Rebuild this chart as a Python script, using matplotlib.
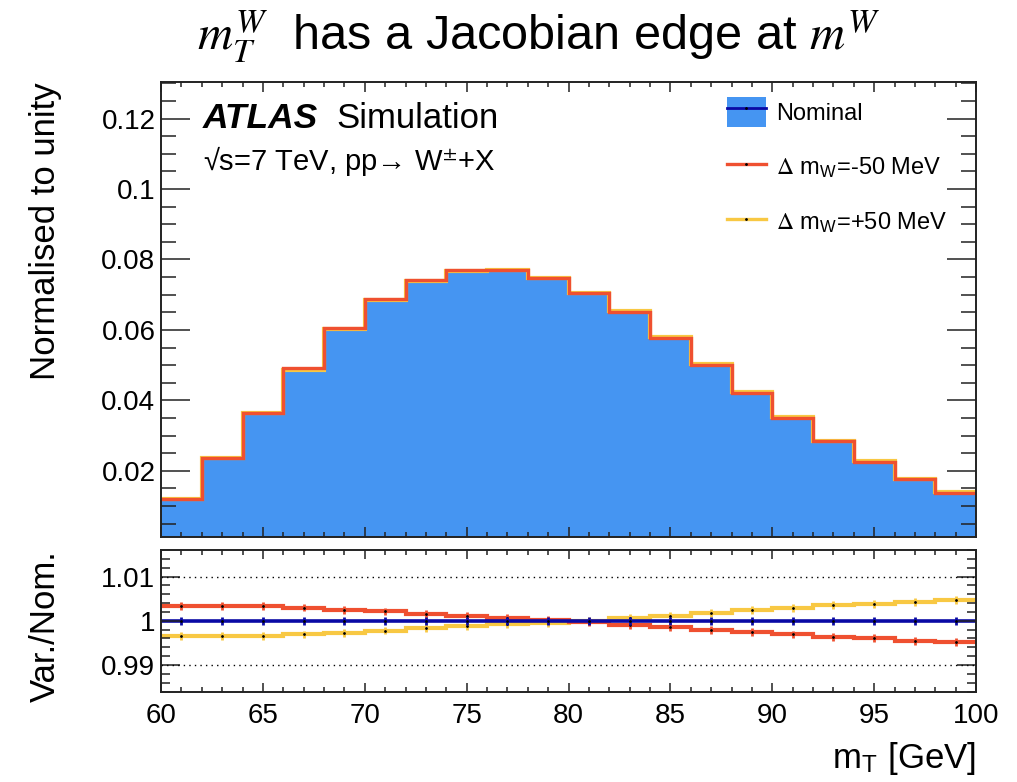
import numpy as np
import matplotlib
matplotlib.use("Agg")
import matplotlib.pyplot as plt
from matplotlib.patches import Patch
from matplotlib.lines import Line2D
from matplotlib.ticker import MultipleLocator, FuncFormatter

plt.rcParams['font.family'] = ['Liberation Sans', 'DejaVu Sans']
plt.rcParams['mathtext.fontset'] = 'stix'

# m_T binning, 2 GeV bins
edges = np.arange(60, 101, 2)
centers = 0.5 * (edges[1:] + edges[:-1])

# nominal m_T shape (normalised to unity)
nominal = [0.0119, 0.0236, 0.0364, 0.0489, 0.0604, 0.0687, 0.0741, 0.0768, 0.0771, 0.0747,
           0.0706, 0.0652, 0.0578, 0.0502, 0.0422, 0.0351, 0.0285, 0.0226, 0.0177, 0.0138]

# variation / nominal
ratio_nom = [1.0] * 20
ratio_minus = [1.0033, 1.0033, 1.0033, 1.0030, 1.0025, 1.0021, 1.0016, 1.0011, 1.0007, 1.0002,
               0.9998, 0.9991, 0.9986, 0.9980, 0.9974, 0.9969, 0.9963, 0.9960, 0.9955, 0.9951]
ratio_plus = [0.9965, 0.9965, 0.9966, 0.9969, 0.9973, 0.9978, 0.9983, 0.9988, 0.9992, 0.9996,
              1.0000, 1.0007, 1.0011, 1.0018, 1.0024, 1.0029, 1.0035, 1.0039, 1.0043, 1.0047]
ratio_err = 0.0009

hist_minus = np.array(nominal) * np.array(ratio_minus)
hist_plus = np.array(nominal) * np.array(ratio_plus)

c_fill = '#4595F2'
c_nom = '#0A0AA5'
c_minus = '#EF5030'
c_plus = '#F8C843'

W, H = 1017, 782
fig = plt.figure(figsize=(W / 100, H / 100), dpi=100)
L, R = 161, 976
ax = fig.add_axes([L / W, 1 - 537 / H, (R - L) / W, (537 - 82) / H])
rax = fig.add_axes([L / W, 1 - 692 / H, (R - L) / W, (692 - 550) / H], sharex=ax)

# upper panel
ax.stairs(nominal, edges, fill=True, color=c_fill, baseline=0)
ax.stairs(nominal, edges, color=c_nom, lw=2, baseline=None)
ax.stairs(hist_plus, edges, color=c_plus, lw=3, baseline=None)
ax.stairs(hist_minus, edges, color=c_minus, lw=2.4, baseline=None)
ax.set_xlim(60, 100)
ax.set_ylim(0.0012, 0.1304)
ax.yaxis.set_major_locator(MultipleLocator(0.02))
ax.yaxis.set_minor_locator(MultipleLocator(0.005))
ax.xaxis.set_major_locator(MultipleLocator(5))
ax.xaxis.set_minor_locator(MultipleLocator(1))
ax.yaxis.set_major_formatter(FuncFormatter(lambda v, p: '%g' % round(v, 4)))
ax.tick_params(axis='x', which='both', labelbottom=False)
ax.tick_params(which='both', direction='in', top=True, right=True, width=1.1, colors='#222222',
               labelcolor='black', labelsize=20)
ax.tick_params(axis='y', which='major', length=21, pad=4)
ax.tick_params(axis='y', which='minor', length=10.5)
ax.tick_params(axis='x', which='major', length=7)
ax.tick_params(axis='x', which='minor', length=3.6)
ax.set_ylabel('Normalised to unity', fontsize=25, loc='top')
ax.yaxis.set_label_coords(-0.122, 1)

# legend
h_nom = (Patch(facecolor=c_fill, edgecolor='none'), Line2D([], [], color=c_nom, lw=2),
         Line2D([], [], color='k', marker='.', ms=2, ls='none'))
h_minus = (Line2D([], [], color=c_minus, lw=2.4), Line2D([], [], color='k', marker='.', ms=2, ls='none'))
h_plus = (Line2D([], [], color=c_plus, lw=2.4), Line2D([], [], color='k', marker='.', ms=2, ls='none'))
ax.legend([h_nom, h_minus, h_plus],
          ['Nominal', r'$\Delta$ m$_{\mathregular{W}}$=-50 MeV', r'$\Delta$ m$_{\mathregular{W}}$=+50 MeV'],
          loc='upper left', bbox_to_anchor=(727 / W, 1 - 97 / H), bbox_transform=fig.transFigure,
          frameon=False, fontsize=17, borderpad=0, borderaxespad=0, handlelength=1.65,
          handleheight=1.6, handletextpad=0.42, labelspacing=1.05)

# ATLAS label
fig.text(203 / W, 1 - 128 / H, 'ATLAS', fontsize=25.5, fontweight='bold', fontstyle='italic')
fig.text(336 / W, 1 - 128 / H, 'Simulation', fontsize=25)
fig.text(203 / W, 1 - 170 / H, '\u221as=7 TeV, pp\u2192 W$^{\\pm}$+X', fontsize=21)

# ratio panel
rax.axhline(1.01, color='k', ls=(0, (1, 3)), lw=1)
rax.axhline(0.99, color='k', ls=(0, (1, 3)), lw=1)
for vals, col, lw in [(ratio_plus, c_plus, 3), (ratio_minus, c_minus, 3), (ratio_nom, c_nom, 2.6)]:
    rax.stairs(vals, edges, color=col, lw=lw, baseline=None)
    rax.errorbar(centers, vals, yerr=ratio_err, fmt='none', ecolor=col, elinewidth=2)
    rax.plot(centers, vals, '.', color='k', ms=2)
rax.set_ylim(0.9839, 1.016)
rax.yaxis.set_major_locator(MultipleLocator(0.01))
rax.yaxis.set_minor_locator(MultipleLocator(0.002))
rax.yaxis.set_major_formatter(FuncFormatter(lambda v, p: '%g' % round(v, 4)))
rax.tick_params(which='both', direction='in', top=True, right=True, width=1.1, colors='#222222',
                labelcolor='black', labelsize=20)
rax.tick_params(axis='y', which='major', length=14, pad=4)
rax.tick_params(axis='y', which='minor', length=6.5)
rax.tick_params(axis='x', which='major', length=6.5, pad=8)
rax.tick_params(axis='x', which='minor', length=3.6)
rax.set_ylabel('Var./Nom.', fontsize=25, loc='top')
rax.yaxis.set_label_coords(-0.122, 1)
rax.set_xlabel('m$_{\\mathregular{T}}$ [GeV]', fontsize=25, loc='right')
rax.xaxis.set_label_coords(1, -0.34)

for a in (ax, rax):
    for s in a.spines.values():
        s.set_linewidth(1.4)
        s.set_color('#222222')

# title
fig.text(539 / W, 1 - 50 / H, r'$m_T^W$  has a Jacobian edge at $m^W$', fontsize=35,
         ha='center', va='baseline')

fig.savefig('out.png', dpi=100)
